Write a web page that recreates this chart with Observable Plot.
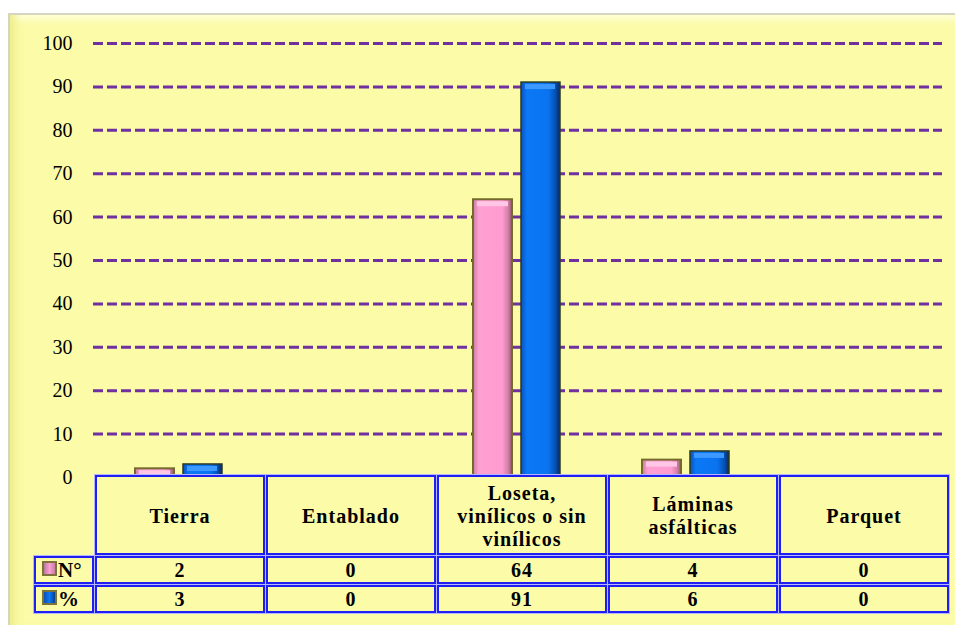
<!DOCTYPE html>
<html>
<head>
<meta charset="utf-8">
<script src="https://cdn.jsdelivr.net/npm/d3@7"></script>
<script src="https://cdn.jsdelivr.net/npm/@observablehq/plot@0.6"></script>
<style>
  body { margin: 0; background: #fff; width: 955px; height: 625px; overflow: hidden; position: relative;
         font-family: "Liberation Serif", "Times New Roman", "DejaVu Serif", serif; }
  #panel { position: absolute; left: 8px; top: 13px; width: 947px; height: 612px; box-sizing: border-box;
           background: #fbfba8; border-top: 2px solid #d6d5c2; border-left: 2px solid #d8d6b8;
           box-shadow: inset 12px 0 8px -7px #eded8c, inset 0 9px 6px -4px #ffffd6; }
  #chart { position: absolute; left: 0; top: 0; }
  #tbl { position: absolute; left: 33px; top: 474px; width: 910px; table-layout: fixed;
         border-collapse: separate; border-spacing: 1px; }
  #tbl td { border: 2px solid #1f1ff2; box-shadow: 0 0 0 1px #b6b6ff; background: #fbfba8;
            text-align: center; vertical-align: middle; font-weight: bold; font-size: 20px;
            font-family: "Liberation Serif", "Times New Roman", "DejaVu Serif", serif;
            padding: 0; color: #000; letter-spacing: 1px; }
  #tbl td.corner { border: none; box-shadow: none; background: transparent; }
  #tbl tr.head td { height: 74px; line-height: 23px; white-space: pre-line; padding-top: 2px; }
  #tbl tr.row td { height: 24px; line-height: 22px; }
  #tbl td.key { text-align: left; padding-left: 6px; font-size: 21px; letter-spacing: 0; }
  .swatch { display: inline-block; width: 11px; height: 11px; border: 2px solid #7d7238;
            vertical-align: 1px; margin-right: 1px; }
</style>
</head>
<body>
<div id="panel"></div>
<div id="chart"></div>
<table id="tbl"></table>
<script>
// Floor materials: count of dwellings (N°) and share (%)
const categories = ["Tierra", "Entablado", "Loseta,\nvinílicos o sin\nvinílicos", "Láminas\nasfálticas", "Parquet"];
const counts = [2, 0, 64, 4, 0];
const percents = [3, 0, 91, 6, 0];
const yTicks = [0, 10, 20, 30, 40, 50, 60, 70, 80, 90, 100];
const seriesNames = ["N°", "%"];

const countRows = categories.map((c, i) => ({category: c, value: counts[i]})).filter(d => d.value > 0);
const percentRows = categories.map((c, i) => ({category: c, value: percents[i]})).filter(d => d.value > 0);

const pinkFill = "url(#gradPink)";
const blueFill = "url(#gradBlue)";

const chart = Plot.plot({
  width: 955,
  height: 492,
  marginLeft: 93,
  marginRight: 13,
  marginTop: 43,
  marginBottom: 15,
  style: {background: "transparent", fontFamily: "'Liberation Serif', 'Times New Roman', serif", fontSize: "20px", color: "#000", overflow: "visible"},
  x: {type: "band", domain: categories, padding: 0, axis: null},
  y: {domain: [0, 100], axis: null},
  marks: [
    Plot.ruleY(yTicks.filter(t => t > 0), {stroke: "#7030a0", strokeWidth: 3, strokeDasharray: "10,4"}),
    Plot.axisY({ticks: yTicks, tickSize: 0, tickPadding: 21, fontSize: 20, label: null}),
    Plot.barY(countRows, {x: "category", y: "value", fill: pinkFill, stroke: "#756a2c", strokeWidth: 2, insetLeft: 40, insetRight: 90}),
    Plot.barY(percentRows, {x: "category", y: "value", fill: blueFill, stroke: "#2b3a20", strokeWidth: 1.5, insetLeft: 88, insetRight: 42}),
    Plot.tickY(countRows, {x: "category", y: "value", dy: 4, stroke: "#ffc6e6", strokeWidth: 5, insetLeft: 44, insetRight: 94}),
    Plot.tickY(percentRows, {x: "category", y: "value", dy: 4, stroke: "#3d98ff", strokeWidth: 5, insetLeft: 92, insetRight: 47})
  ]
});

// Bevel-like horizontal gradients for the bars
const defs = d3.select(chart).insert("defs", ":first-child");
function grad(id, stops) {
  const g = defs.append("linearGradient").attr("id", id).attr("x1", 0).attr("x2", 1).attr("y1", 0).attr("y2", 0);
  stops.forEach(([o, c]) => g.append("stop").attr("offset", o).attr("stop-color", c));
}
grad("gradPink", [[0, "#c77fa5"], [0.15, "#ff9fd2"], [0.75, "#ff9ccf"], [0.9, "#d27fab"], [1, "#8d5a62"]]);
grad("gradBlue", [[0, "#0a52c0"], [0.15, "#0b78f6"], [0.7, "#0a74f0"], [0.88, "#0550b8"], [1, "#0a2a5a"]]);

document.getElementById("chart").append(chart);

// Data table below the bars
const tbl = d3.select("#tbl");
const cg = tbl.append("colgroup");
cg.append("col").style("width", "60px");
categories.forEach(() => cg.append("col").style("width", "170px"));

const head = tbl.append("tr").attr("class", "head");
head.append("td").attr("class", "corner");
categories.forEach(c => head.append("td").text(c));

const swatchBg = ["linear-gradient(90deg,#b97aa0,#ff9fd2 50%,#c47fa6)", "linear-gradient(90deg,#0a4fb8,#0b78f6 50%,#0a3f90)"];
[counts, percents].forEach((vals, k) => {
  const tr = tbl.append("tr").attr("class", "row");
  const key = tr.append("td").attr("class", "key");
  key.append("span").attr("class", "swatch").style("background", swatchBg[k]);
  key.append("span").text(seriesNames[k]);
  vals.forEach(v => tr.append("td").text(v));
});
</script>
</body>
</html>
